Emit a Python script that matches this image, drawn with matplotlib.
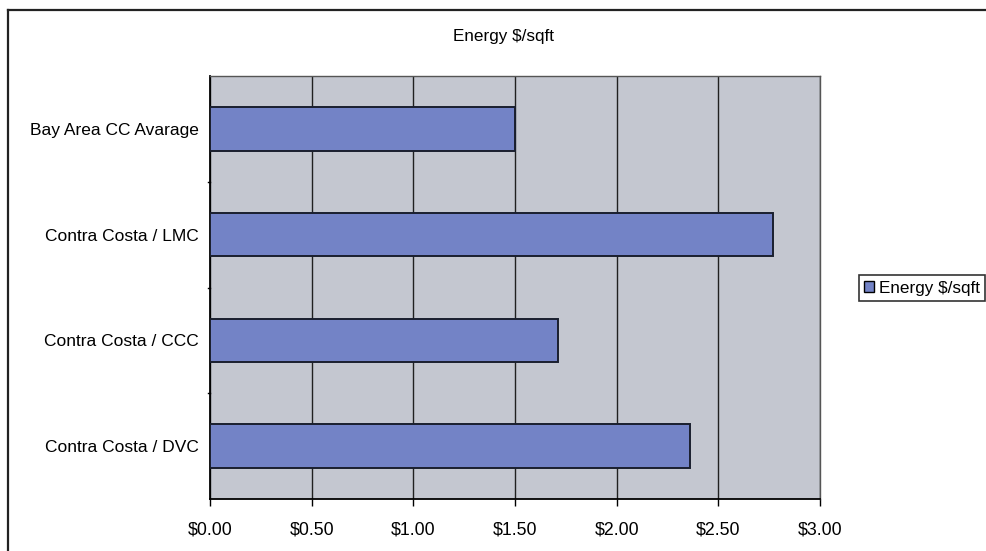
import matplotlib
matplotlib.use("Agg")
import matplotlib.pyplot as plt
from matplotlib.lines import Line2D
from matplotlib.patches import Patch

plt.rcParams['font.family'] = ['Liberation Sans', 'DejaVu Sans']

categories = ["Bay Area CC Avarage", "Contra Costa / LMC",
              "Contra Costa / CCC", "Contra Costa / DVC"]
values = [1.50, 2.77, 1.71, 2.36]
xticks = [0.0, 0.5, 1.0, 1.5, 2.0, 2.5, 3.0]
xtick_labels = ["$0.00", "$0.50", "$1.00", "$1.50", "$2.00", "$2.50", "$3.00"]
series_name = "Energy $/sqft"

bar_color = "#7383c6"

fig = plt.figure(figsize=(9.87, 5.51), dpi=100)
fig.patch.set_facecolor("white")

ax = fig.add_axes([210 / 987, 1 - 499 / 551, 610 / 987, 423 / 551])
ax.set_facecolor("#c4c7d0")

pos = list(range(len(categories)))
ax.barh(pos, values, height=0.41, color=bar_color, edgecolor="#1a1f2e",
        linewidth=1.4, zorder=3)

ax.set_xlim(0, 3.0)
ax.set_ylim(len(categories) - 0.5, -0.5)
ax.set_xticks(xticks)
ax.set_xticklabels(xtick_labels, fontsize=12.8)
ax.set_yticks(pos)
ax.set_yticklabels(categories, fontsize=12.5)
ax.tick_params(axis="y", length=0, pad=8)
ax.tick_params(axis="x", length=5, width=1, direction="out", pad=11)

# category separator ticks on the value axis
for b in [0.5, 1.5, 2.5]:
    ax.plot([-0.012, 0], [b, b], color="black", lw=1, clip_on=False, zorder=4)

ax.grid(axis="x", color="#202020", linewidth=1.0, zorder=1)
ax.grid(axis="y", visible=False)

for side in ["left", "bottom"]:
    ax.spines[side].set_color("black")
    ax.spines[side].set_linewidth(1.3)
for side in ["top", "right"]:
    ax.spines[side].set_color("#555555")
    ax.spines[side].set_linewidth(1.0)

fig.text(504 / 987, 1 - 37 / 551, series_name, ha="center", va="center",
         fontsize=12.3)

handle = Patch(facecolor=bar_color, edgecolor="black", linewidth=1.0)
leg = fig.legend([handle], [series_name], loc="center left",
                 bbox_to_anchor=(859 / 987, 1 - 288 / 551), fontsize=12.3,
                 frameon=True, fancybox=False, handlelength=0.55,
                 handleheight=0.55, handletextpad=0.3, borderpad=0.3,
                 borderaxespad=0)
leg.get_frame().set_edgecolor("black")
leg.get_frame().set_linewidth(1.2)

# outer chart border
fig.add_artist(Line2D([8 / 987, 1.0], [1 - 10 / 551, 1 - 10 / 551],
                      transform=fig.transFigure, color="#222222", lw=1.6))
fig.add_artist(Line2D([8 / 987, 8 / 987], [0.0, 1 - 10 / 551],
                      transform=fig.transFigure, color="#222222", lw=1.6))

fig.savefig("out.png", dpi=100)
